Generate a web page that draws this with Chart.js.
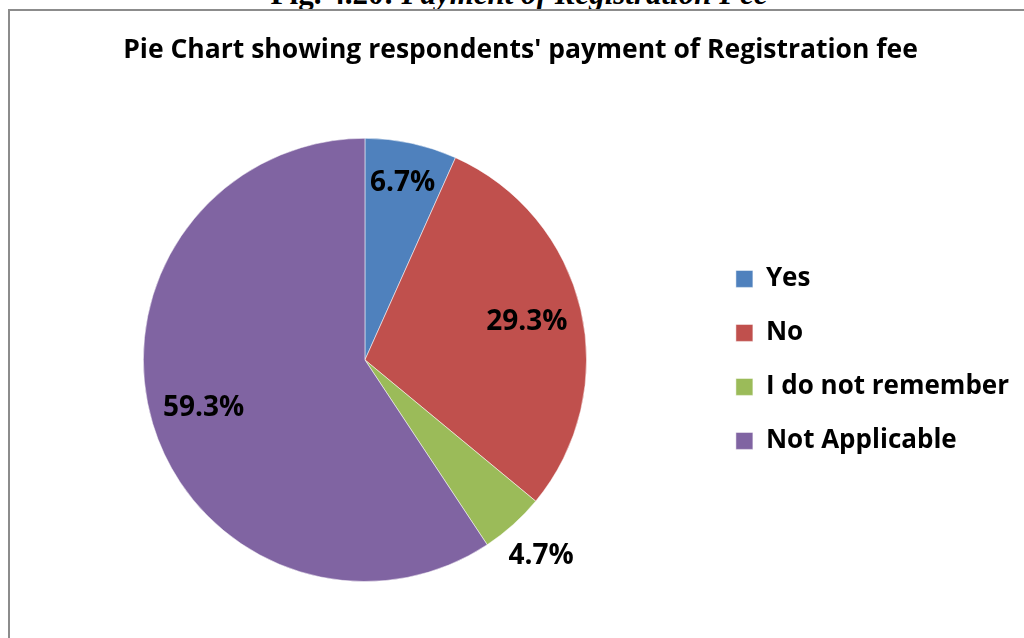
<!DOCTYPE html>
<html>
<head>
<meta charset="utf-8">
<script src="https://cdn.jsdelivr.net/npm/chart.js"></script>
<style>
  html, body { margin: 0; padding: 0; background: #fff; overflow: hidden; }
  #page { position: relative; width: 1024px; height: 638px; overflow: hidden; }
  #caption {
    position: absolute; left: 0; top: -22px; width: 1038px; text-align: center;
    font: bold 31px/31px "Liberation Serif", "Times New Roman", serif; color: #000;
    white-space: nowrap;
  }
  #frame {
    position: absolute; left: 8px; top: 9px; width: 1100px; height: 700px;
    border-left: 2px solid #8c8c8c; border-top: 2px solid #8c8c8c;
  }
  #wrap { position: absolute; left: 0; top: 0; width: 1024px; height: 638px; }
</style>
</head>
<body>
<div id="page">
  <div id="caption">Fig. 4.20: <i>Payment of Registration Fee</i></div>
  <div id="frame"></div>
  <div id="wrap"><canvas id="pie-chart"></canvas></div>
</div>
<script>
const chartTitle = "Pie Chart showing respondents' payment of Registration fee";
const categories = ['Yes', 'No', 'I do not remember', 'Not Applicable'];
const percents = [6.7, 29.3, 4.7, 59.3];
const sliceColors = ['#4F81BD', '#C0504D', '#9BBB59', '#8064A2'];

// where each percentage sits, as a share of the radius (the small slice goes outside)
const labelRadius = [0.815, 0.75, 1.19, 0.76];

const percentLabels = {
    id: 'percentLabels',
    afterDatasetsDraw(chart) {
        const ctx = chart.ctx;
        const arcs = chart.getDatasetMeta(0).data;
        ctx.save();
        ctx.font = 'bold 28px "Open Sans"';
        ctx.fillStyle = '#000';
        ctx.textAlign = 'center';
        ctx.textBaseline = 'middle';
        arcs.forEach((arc, i) => {
            const { x, y, startAngle, endAngle, outerRadius } = arc.getProps(['x', 'y', 'startAngle', 'endAngle', 'outerRadius'], true);
            const mid = (startAngle + endAngle) / 2;
            const r = outerRadius * labelRadius[i];
            ctx.fillText(percents[i].toFixed(1) + '%', x + Math.cos(mid) * r, y + Math.sin(mid) * r);
        });
        ctx.restore();
    }
};

async function main() {
    await Promise.all([
        document.fonts.load('bold 28px "Open Sans"'),
        document.fonts.load('bold 26px "Open Sans"')
    ]);

    const canvas = document.querySelector('#pie-chart');
    Chart.defaults.font.family = '"Open Sans"';

    new Chart(canvas.getContext('2d'), {
        type: 'pie',
        data: {
            labels: categories,
            datasets: [{
                data: percents,
                backgroundColor: sliceColors,
                borderColor: 'rgba(255,255,255,0.5)',
                borderWidth: 1
            }]
        },
        options: {
            responsive: true,
            maintainAspectRatio: false,
            animation: false,
            layout: { padding: { left: 22, right: 5, top: 10, bottom: 56 } },
            plugins: {
                title: {
                    display: true,
                    text: chartTitle,
                    color: '#000',
                    font: { size: 26.5, weight: 'bold', lineHeight: 1.2 },
                    padding: { top: 25, bottom: 71 }
                },
                legend: {
                    position: 'right',
                    fullSize: false,
                    labels: {
                        color: '#000',
                        font: { size: 26, weight: 'bold' },
                        boxWidth: 17,
                        boxHeight: 17,
                        padding: 28
                    }
                },
                tooltip: { enabled: false }
            }
        },
        plugins: [percentLabels]
    });
}

main();
</script>
</body>
</html>
